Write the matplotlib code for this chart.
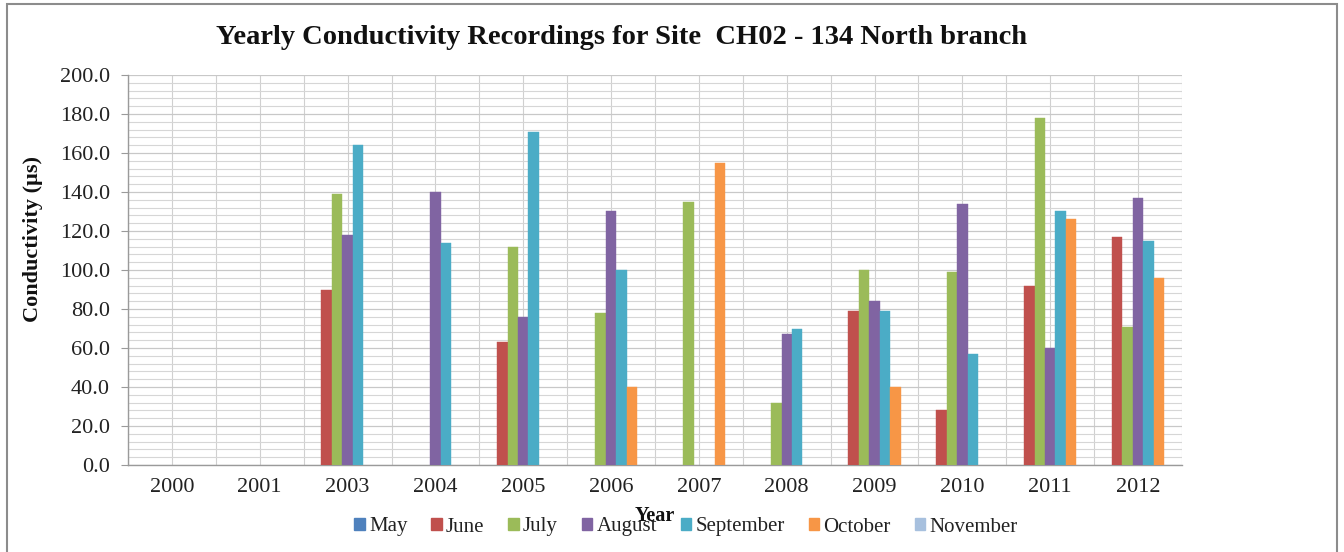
import numpy as np
import matplotlib
matplotlib.use("Agg")
import matplotlib.pyplot as plt
from matplotlib.patches import Rectangle, Patch
from matplotlib.ticker import MultipleLocator

plt.rcParams['font.family'] = ['Liberation Serif', 'DejaVu Serif']

years = ["2000", "2001", "2003", "2004", "2005", "2006", "2007", "2008", "2009", "2010", "2011", "2012"]
months = ["May", "June", "July", "August", "September", "October", "November"]

may       = [None, None, None, None, None, None, None, None, None, None, None, None]
june      = [None, None, 90,   None, 63,   None, None, None, 79,   28,   92,   117]
july      = [None, None, 139,  None, 112,  78,   135,  32,   100,  99,   178,  71]
august    = [None, None, 118,  140,  76,   130,  None, 67,   84,   134,  60,   137]
september = [None, None, 164,  114,  171,  100,  None, 70,   79,   57,   130,  115]
october   = [None, None, None, None, None, 40,   155,  None, 40,   None, 126,  96]
november  = [None, None, None, None, None, None, None, None, None, None, None, None]

series = [may, june, july, august, september, october, november]
colors = ["#4F81BD", "#C0504D", "#9BBB59", "#8064A2", "#4BACC6", "#F79646", "#A7C0DE"]

fig = plt.figure(figsize=(13.44, 5.52), dpi=100)
fig.patch.set_facecolor("white")
fig.add_artist(Rectangle((7 / 1344, -0.05), (1337 - 7) / 1344, 1.05 - 4 / 552,
                         transform=fig.transFigure, fill=False,
                         edgecolor="#8c8c8c", linewidth=1.5))

ax = fig.add_axes([128 / 1344, 1 - 465 / 552, (1182 - 128) / 1344, (465 - 75) / 552])

n = len(years)
x = np.arange(n)
w = 0.119
for i, (vals, c) in enumerate(zip(series, colors)):
    xs = [x[j] + (i - 3) * w for j, v in enumerate(vals) if v is not None]
    hs = [v for v in vals if v is not None]
    ax.bar(xs, hs, width=w, color=c, edgecolor=c, linewidth=0.3, zorder=3)

ax.set_xlim(-0.5, n - 0.5)
ax.set_ylim(0, 200)
ax.yaxis.set_minor_locator(MultipleLocator(4))
ax.set_yticks(np.arange(0, 201, 20))
ax.set_yticklabels([f"{v:.1f}" for v in np.arange(0, 201, 20)], fontsize=16)
ax.set_xticks(x)
ax.set_xticklabels(years, fontsize=16)
ax.set_xticks(np.arange(-0.5, n, 0.5), minor=True)

ax.grid(True, which="major", axis="y", color="#c8c8c8", linewidth=0.9, zorder=0)
ax.grid(True, which="minor", axis="y", color="#d6d6d6", linewidth=0.8, zorder=0)
ax.grid(True, which="both", axis="x", color="#d0d0d0", linewidth=0.8, zorder=0)

ax.tick_params(axis="y", which="major", length=5, color="#9a9a9a", pad=8, labelcolor="#222222")
ax.tick_params(axis="y", which="minor", length=0)
ax.tick_params(axis="x", which="major", length=0, pad=9, labelcolor="#222222")
ax.tick_params(axis="x", which="minor", length=0)

for s in ["top", "right"]:
    ax.spines[s].set_visible(False)
for s in ["left", "bottom"]:
    ax.spines[s].set_color("#9a9a9a")
    ax.spines[s].set_linewidth(1.0)

fig.text(33 / 1344, 1 - 239 / 552, "Conductivity (µs)", rotation=90,
         ha="center", va="center", fontsize=16, fontweight="bold", color="#111111")

fig.text(621 / 1344, 1 - 38 / 552, "Yearly Conductivity Recordings for Site  CH02 - 134 North branch",
         ha="center", va="center", fontsize=20.5, fontweight="bold", color="#111111")

handles = [Patch(facecolor=c, edgecolor=c, label=m) for m, c in zip(months, colors)]
leg = fig.legend(handles=handles, loc="center", bbox_to_anchor=(686 / 1344, 1 - 527 / 552), ncol=7,
                 frameon=False, fontsize=15, handlelength=0.5, handleheight=0.5,
                 handletextpad=0.2, columnspacing=1.15, borderaxespad=0)
for t in leg.get_texts():
    t.set_color("#222222")

fig.text(655 / 1344, 1 - 516 / 552, "Year", ha="center", va="center",
         fontsize=14.5, fontweight="bold", color="#111111")

fig.savefig("out.png", dpi=100, facecolor="white")
